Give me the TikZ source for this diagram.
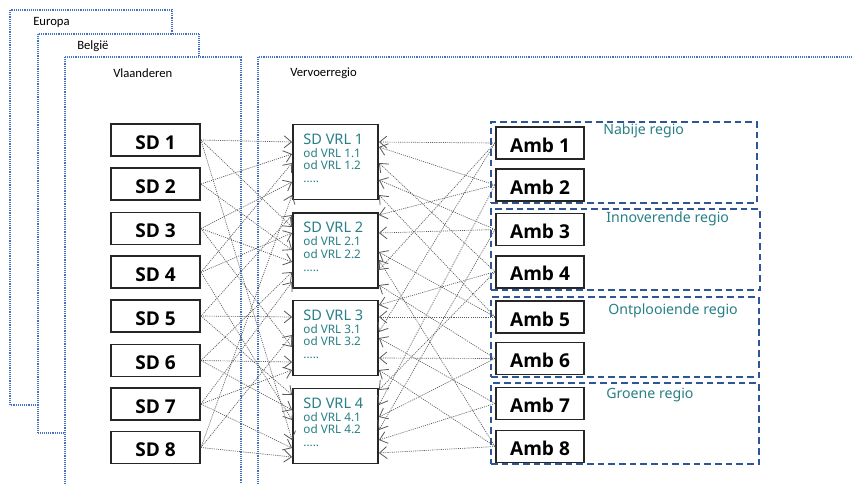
\documentclass[tikz,border=0pt]{standalone}
\usepackage{fontspec}
\setmainfont{Carlito}
\newfontfamily\boxfont{Open Sans}
\newfontfamily\tealfont{Noto Sans}
\usetikzlibrary{arrows.meta,calc}
\definecolor{frameblue}{RGB}{68,114,196}
\definecolor{regionblue}{RGB}{47,85,151}
\definecolor{tealtext}{RGB}{40,128,134}
\definecolor{linkgray}{RGB}{90,90,90}

\tikzset{
  frame/.style={draw=frameblue, line width=1.1pt, dash pattern=on 0.7pt off 0.7pt, fill=white},
  framelabel/.style={anchor=west, inner sep=0pt, font=\fontsize{9.5}{11}\selectfont},
  sdbox/.style={draw=black!85, line width=1.4pt, fill=white, inner sep=0pt,
    minimum width=66.75pt, minimum height=24pt, text height=13.6pt, text depth=0pt,
    font=\boxfont\bfseries\fontsize{14.3}{16}\selectfont},
  ambbox/.style={sdbox, minimum width=66pt},
  vrlbox/.style={draw=black!85, line width=1.4pt, fill=white, inner sep=0pt,
    minimum width=63.75pt, minimum height=56.25pt},
  vrltext/.style={anchor=north west, inner sep=0pt, align=left, text=tealtext,
    font=\tealfont\fontsize{8.8}{9.7}\selectfont},
  region/.style={draw=regionblue, line width=1.1pt, dash pattern=on 5pt off 3pt, inner sep=0pt},
  regionlabel/.style={anchor=west, inner sep=0pt, text=tealtext, font=\tealfont\fontsize{10.6}{12}\selectfont},
  link/.style={draw=linkgray, line width=0.5pt, dash pattern=on 0.8pt off 0.8pt,
    -{Straight Barb[length=5.5pt,width=9pt,line width=0.6pt]}}
}

\begin{document}
\begin{tikzpicture}[x=0.75pt,y=-0.75pt]
\clip (0,0) rectangle (852,483);
\fill[white] (0,0) rectangle (852,483);

% nested policy levels
\draw[frame] (10,10) rectangle (172,405);
\node[framelabel] (eu) at (33,22) {Europa};
\draw[frame] (38,34) rectangle (199,433);
\node[framelabel] (be) at (77,46) {België};
\draw[frame] (65,57) rectangle (241,520);
\node[framelabel] (vl) at (113,73) {Vlaanderen};
\draw[frame] (258,57) rectangle (900,520);
\node[framelabel] (vr) at (290,73) {Vervoerregio};

% regions grouping the Amb boxes
\node[region, minimum width=199.5pt, minimum height=60.75pt] (r1) at (624,162.5) {};
\node[region, minimum width=201.75pt, minimum height=60.75pt] (r2) at (625.5,249.5) {};
\node[region, minimum width=201pt, minimum height=60pt] (r3) at (625,337) {};
\node[region, minimum width=201pt, minimum height=60.75pt] (r4) at (625,423.5) {};
\node[regionlabel] (r1l) at (603,131) {Nabije regio};
\node[regionlabel] (r2l) at (606,219) {Innoverende regio};
\node[regionlabel] (r3l) at (608,311) {Ontplooiende regio};
\node[regionlabel] (r4l) at (606,395) {Groene regio};

% SD boxes
\foreach \i/\y in {1/140,2/184,3/228.5,4/272.3,5/316,6/360.5,7/404,8/447.5}
  \node[sdbox] (s\i) at (155.5,\y) {SD \i};

% Amb boxes
\foreach \i/\y in {1/143,2/185,3/229.5,4/271.7,5/317,6/358.5,7/403.5,8/446.5}
  \node[ambbox] (a\i) at (540,\y) {Amb \i};

% SD VRL boxes
\foreach \i/\y in {1/162,2/250.5,3/338,4/426}{
  \node[vrlbox] (v\i) at (335.5,\y) {};
  \node[vrltext] (v\i t) at ([xshift=8.3pt,yshift=-7.3pt]v\i.north west)
    {{\fontsize{10.9}{9.7}\selectfont SD VRL \i}\\od VRL \i.1\\od VRL \i.2\\.....};
}

% SD -> SD VRL links
\foreach \s/\v/\y in {s1/v1/142, s1/v2/227, s1/v4/440,
                      s2/v1/154, s2/v2/250,
                      s3/v1/182, s3/v2/262, s3/v3/347,
                      s4/v1/163, s4/v2/233, s4/v4/420,
                      s5/v3/317, s5/v2/215, s5/v4/395,
                      s6/v3/362, s6/v2/272, s6/v4/410,
                      s7/v3/370, s7/v4/448, s7/v2/282,
                      s8/v4/457, s8/v3/335, s8/v1/195}
  \draw[link] (\s.east) -- (\v.west |- 0,\y);

% Amb -> SD VRL links
\foreach \a/\v/\y in {a1/v1/142, a1/v2/270, a1/v3/332,
                      a2/v1/147, a2/v2/215, a2/v4/405,
                      a3/v2/233, a3/v1/180, a3/v4/430,
                      a4/v1/163, a4/v3/305, a4/v4/390,
                      a5/v3/317, a5/v1/195, a5/v2/252,
                      a6/v3/358, a6/v2/285, a6/v4/417,
                      a7/v4/440, a7/v3/338,
                      a8/v4/453, a8/v3/370, a8/v2/260}
  \draw[link] (\a.west) -- (\v.east |- 0,\y);
\end{tikzpicture}
\end{document}
